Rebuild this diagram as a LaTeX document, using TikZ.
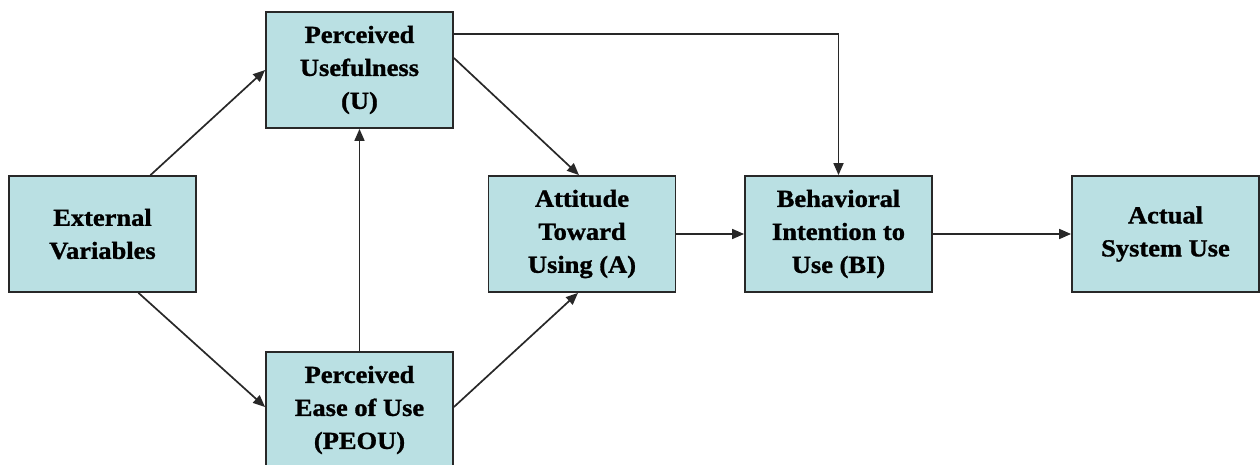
\documentclass[tikz,border=0pt]{standalone}
\usepackage{fontspec}
\newfontfamily\lblfont{Liberation Serif}[FakeStretch=1.08,FakeBold=1.2]
\usetikzlibrary{arrows.meta,calc}
\definecolor{boxfill}{RGB}{186,224,227}
\definecolor{edge}{RGB}{40,40,40}
\tikzset{
  stagebox/.style={draw=edge, line width=1.8pt, fill=boxfill, rectangle,
    minimum width=187pt, minimum height=116pt, inner sep=0pt, align=center,
    font=\lblfont\bfseries\fontsize{24.5}{33}\selectfont},
  link/.style={draw=edge, line width=1.7pt, -{Triangle[length=12pt,width=10pt]}}
}
\begin{document}
\begin{tikzpicture}[x=1pt,y=-1pt]
  \useasboundingbox (0,0) rectangle (1260,465);
  \node[stagebox] (ev)   at (102.5,234)  {External\\Variables};
  \node[stagebox] (pu)   at (359.5,70)   {Perceived\\Usefulness\\(U)};
  \node[stagebox] (peou) at (359.5,410)  {Perceived\\Ease of Use\\(PEOU)};
  \node[stagebox] (att)  at (582,234)    {Attitude\\Toward\\Using (A)};
  \node[stagebox] (bi)   at (838.5,234)  {Behavioral\\Intention to\\Use (BI)};
  \node[stagebox] (asu)  at (1165.5,234) {Actual\\System Use};

  \draw[link] ($(ev.north)+(48,0)$) -- (pu.west);
  \draw[link] ($(ev.south)+(36,0)$) -- ($(peou.west)+(0,-3)$);
  \draw[link] (peou.north) -- (pu.south);
  \draw[link] ($(pu.east)+(0,-12)$) -- ($(att.north)+(-3,0)$);
  \draw[link] ($(peou.east)+(0,-3)$) -- ($(att.south)+(-4,0)$);
  \draw[link] ($(pu.east)+(0,-36)$) -| (bi.north);
  \draw[link] (att.east) -- (bi.west);
  \draw[link] (bi.east) -- (asu.west);
\end{tikzpicture}
\end{document}
